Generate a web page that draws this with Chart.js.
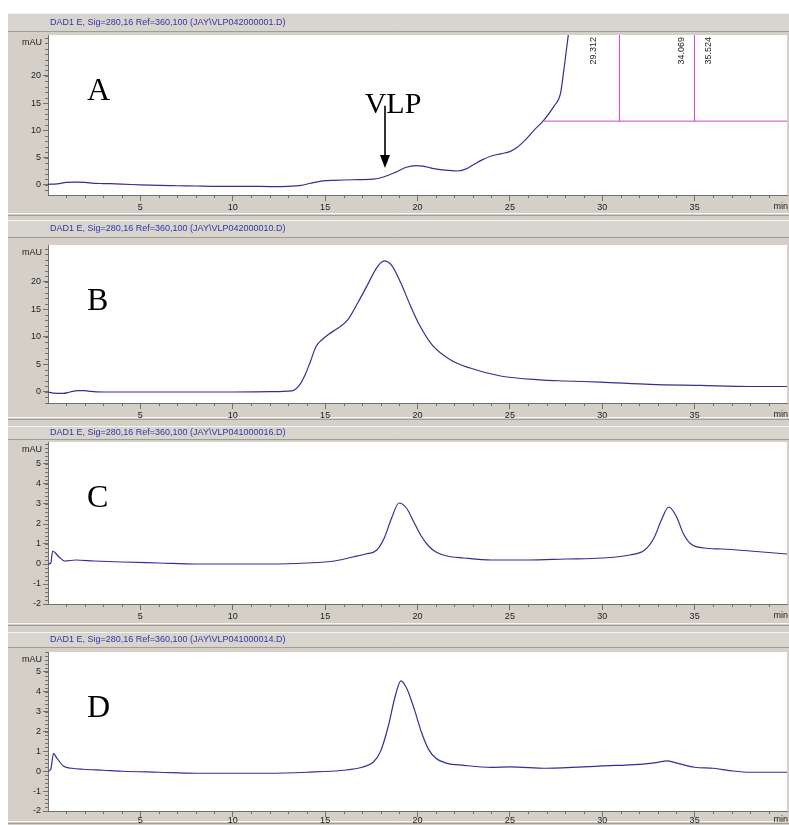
<!DOCTYPE html>
<html>
<head>
<meta charset="utf-8">
<script src="https://cdn.jsdelivr.net/npm/chart.js@4"></script>
<style>
  body { margin: 0; background: #fff; }
  #wrap { position: relative; width: 789px; height: 825px; overflow: hidden; }
  #wrap canvas { position: absolute; left: 0; }
</style>
</head>
<body>
<div id="wrap">
  <canvas id="chartA" width="789" height="204" style="top:13px"></canvas>
  <canvas id="chartB" width="789" height="204" style="top:217px"></canvas>
  <canvas id="chartC" width="789" height="206" style="top:421px"></canvas>
  <canvas id="chartD" width="789" height="198" style="top:627px"></canvas>
</div>
<script>
// tick labels
const xTicks = [5, 10, 15, 20, 25, 30, 35];
const yTicksAB = [0, 5, 10, 15, 20];
const yTicksCD = [-2, -1, 0, 1, 2, 3, 4, 5];

// A: VLP042000001
const timeA = [0, 0.5, 1.0, 1.5, 2.0, 2.5, 3.0, 4.0, 5.0, 6.0, 7.0, 8.0, 9.0, 10, 11, 12, 13, 13.7, 14.2, 14.9,
  15.5, 16.5, 17.6, 18.2, 18.8, 19.4, 19.9, 20.3, 20.8, 21.5, 22.1, 22.6, 23.0, 23.5, 24.0, 24.5, 25.0, 25.4,
  25.85, 26.3, 26.84, 27.38, 27.74, 27.9, 28.05, 28.2, 28.35];
const absA = [0.1, 0.2, 0.45, 0.5, 0.45, 0.3, 0.25, 0.15, 0.0, -0.1, -0.15, -0.2, -0.25, -0.25, -0.25, -0.3, -0.25, -0.1, 0.3, 0.75,
  0.85, 0.95, 1.05, 1.5, 2.3, 3.25, 3.55, 3.45, 3.05, 2.7, 2.55, 2.9, 3.65, 4.6, 5.3, 5.7, 6.1, 6.9,
  8.3, 10.0, 11.9, 14.4, 16.8, 20.5, 24.5, 28.5, 32];
// integration marks in A
const peakTimes = [29.312, 34.069, 35.524];
const peakLabels = ['29.312', '34.069', '35.524'];
const peakEdges = [30.93, 34.99];
const baseStart = 26.84, baseEnd = 40, baseLevel = 11.7;
// VLP arrow in A (min, mAU)
const vlpTime = 18.24, vlpFrom = 13.4, vlpTo = 3.1;

// B: VLP042000010
const timeB = [0, 0.3, 0.8, 1.2, 1.6, 2.0, 2.3, 3, 5, 8, 10, 12, 13.2, 13.6, 13.9, 14.2, 14.5, 14.8, 15.2, 15.6,
  16.2, 16.8, 17.3, 17.8, 18.2, 18.6, 19.1, 19.6, 20.1, 20.8, 21.8, 22.8, 24.5, 26.6, 28, 29.9, 32.6, 35.3, 38, 40];
const absB = [0, -0.2, -0.25, 0, 0.25, 0.25, 0.1, 0, 0, 0, 0, 0.05, 0.2, 1.2, 3.0, 5.5, 8.2, 9.4, 10.5, 11.4,
  13, 16.4, 19.5, 22.6, 23.8, 23.0, 19.8, 15.8, 12.2, 8.5, 5.8, 4.4, 2.9, 2.2, 2.0, 1.8, 1.4, 1.2, 1.0, 1.0];

// C: VLP041000016
const timeC = [0, 0.15, 0.25, 0.4, 0.6, 0.9, 1.5, 2.5, 4, 6, 8, 10, 12, 14, 15.5, 16.5, 17.2, 17.8, 18.2, 18.6,
  19.0, 19.4, 19.8, 20.2, 20.6, 21, 21.6, 22.5, 24, 26, 28, 30, 31.5, 32.3, 32.8, 33.2, 33.6, 34.0, 34.4, 34.8,
  35.5, 36.5, 38, 40];
const absC = [0, 0.05, 0.65, 0.55, 0.35, 0.15, 0.2, 0.15, 0.1, 0.05, 0.0, 0.0, 0.0, 0.05, 0.15, 0.35, 0.5, 0.7, 1.3, 2.3,
  3.05, 2.8, 2.1, 1.4, 0.9, 0.6, 0.4, 0.3, 0.2, 0.2, 0.25, 0.3, 0.45, 0.7, 1.3, 2.2, 2.85, 2.4, 1.5, 1.0,
  0.8, 0.75, 0.65, 0.5];

// D: VLP041000014
const timeD = [0, 0.15, 0.3, 0.45, 0.85, 1.3, 1.9, 3, 4, 6, 8, 10, 12, 14, 16, 17, 17.6, 18.0, 18.4, 18.8,
  19.1, 19.4, 19.8, 20.2, 20.6, 21, 21.6, 22.5, 24, 25, 27, 30, 32, 33, 33.5, 34, 35, 36, 37, 38, 40];
const absD = [0, 0.1, 0.9, 0.7, 0.25, 0.15, 0.1, 0.05, 0, -0.05, -0.1, -0.1, -0.1, -0.05, 0.05, 0.2, 0.45, 1.0, 2.2, 3.8,
  4.55, 4.2, 3.2, 2.0, 1.1, 0.65, 0.4, 0.3, 0.2, 0.22, 0.15, 0.27, 0.35, 0.45, 0.52, 0.42, 0.2, 0.15, 0.02, -0.05, -0.05];

const FONT = "'Liberation Sans', Arial, sans-serif";
const SERIF = '"Liberation Serif", "Times New Roman", serif';
const GRAY = '#d4d0c8';
const TRACE = '#30309a';
const MAGENTA = '#cc44cc';

const pts = (t, v) => t.map((x, i) => ({ x, y: v[i] }));

const frame = {
  id: 'frame',
  beforeDraw(chart, args, o) {
    const { ctx, chartArea: a, width, height } = chart;
    ctx.save();
    ctx.fillStyle = GRAY;
    ctx.fillRect(8, 0, width - 8, height);
    // header strip
    ctx.fillStyle = '#d8d5ce';
    ctx.fillRect(8, o.bandTop, width - 8, o.bandBottom - o.bandTop);
    ctx.strokeStyle = '#f6f5f2';
    ctx.beginPath(); ctx.moveTo(8, o.bandTop + 0.5); ctx.lineTo(width, o.bandTop + 0.5); ctx.stroke();
    ctx.strokeStyle = '#a09d96';
    ctx.beginPath(); ctx.moveTo(8, o.bandBottom - 0.5); ctx.lineTo(width, o.bandBottom - 0.5); ctx.stroke();
    // separator under x labels
    ctx.strokeStyle = '#f6f5f2';
    ctx.beginPath(); ctx.moveTo(8, height - 3.5); ctx.lineTo(width, height - 3.5); ctx.stroke();
    ctx.strokeStyle = '#a09d96';
    ctx.beginPath(); ctx.moveTo(8, height - 1.5); ctx.lineTo(width, height - 1.5); ctx.stroke();
    ctx.fillStyle = '#fff';
    ctx.fillRect(a.left, a.top, a.right - a.left, a.bottom - a.top);
    ctx.restore();
  },
  afterDraw(chart, args, o) {
    const { ctx, chartArea: a, width } = chart;
    const xs = chart.scales.x, ys = chart.scales.y;
    ctx.save();
    // header text
    ctx.font = '9px ' + FONT;
    ctx.fillStyle = '#3434a8';
    ctx.textBaseline = 'middle';
    ctx.textAlign = 'left';
    ctx.fillText(o.header, 50, (o.bandTop + o.bandBottom) / 2);
    // minor ticks
    ctx.strokeStyle = '#707070';
    ctx.lineWidth = 1;
    ctx.beginPath();
    for (let m = 1; m < 40; m++) {
      if (m % 5 === 0) continue;
      const px = Math.round(xs.getPixelForValue(m)) + 0.5;
      ctx.moveTo(px, a.bottom); ctx.lineTo(px, a.bottom + 3);
    }
    for (let k = Math.ceil(ys.min / o.minorY); k * o.minorY <= ys.max; k++) {
      const py = Math.round(ys.getPixelForValue(k * o.minorY)) + 0.5;
      ctx.moveTo(a.left - 3, py); ctx.lineTo(a.left, py);
    }
    ctx.stroke();
    // axis captions
    ctx.fillStyle = '#222';
    ctx.font = '9px ' + FONT;
    ctx.textAlign = 'right';
    ctx.fillText('mAU', a.left - 6, a.top + 8);
    ctx.textBaseline = 'top';
    ctx.fillText('min', width - 1, a.bottom + 7 + o.tickPad);
    // panel letter
    ctx.font = '32px ' + SERIF;
    ctx.fillStyle = '#000';
    ctx.textAlign = 'left';
    ctx.textBaseline = 'alphabetic';
    ctx.fillText(o.letter, a.left + 39, a.top + 65);
    if (o.marks) {
      // retention time labels
      ctx.font = '9px ' + FONT;
      ctx.fillStyle = '#222';
      peakTimes.forEach((t, i) => {
        ctx.save();
        ctx.translate(xs.getPixelForValue(t) + 4, a.top + 2);
        ctx.rotate(-Math.PI / 2);
        ctx.textAlign = 'right';
        ctx.textBaseline = 'middle';
        ctx.fillText(peakLabels[i], 0, 0);
        ctx.restore();
      });
      // VLP arrow
      const ax = xs.getPixelForValue(vlpTime);
      const y0 = ys.getPixelForValue(vlpFrom), y1 = ys.getPixelForValue(vlpTo);
      ctx.strokeStyle = '#000';
      ctx.lineWidth = 1.6;
      ctx.beginPath(); ctx.moveTo(ax, y0 - 6); ctx.lineTo(ax, y1 - 8); ctx.stroke();
      ctx.fillStyle = '#000';
      ctx.beginPath(); ctx.moveTo(ax - 5, y1 - 13); ctx.lineTo(ax + 5, y1 - 13); ctx.lineTo(ax, y1); ctx.closePath(); ctx.fill();
      ctx.font = '30px ' + SERIF;
      ctx.textAlign = 'center';
      ctx.fillText('VLP', ax + 8, y0 + 1);
    }
    ctx.restore();
  }
};

function makePanel(id, cfg) {
  const datasets = [{
    data: pts(cfg.time, cfg.abs),
    borderColor: TRACE,
    borderWidth: 1.2,
    pointRadius: 0,
    cubicInterpolationMode: 'monotone'
  }];
  if (cfg.marks) {
    const line = d => ({ data: d, borderColor: MAGENTA, borderWidth: 1, pointRadius: 0 });
    datasets.push(line([{ x: baseStart, y: baseLevel }, { x: baseEnd, y: baseLevel }]));
    peakEdges.forEach(t => datasets.push(line([{ x: t, y: baseLevel }, { x: t, y: cfg.yMax + 5 }])));
  }
  new Chart(document.getElementById(id), {
    type: 'line',
    data: { datasets },
    plugins: [frame],
    options: {
      responsive: false,
      animation: false,
      layout: { padding: { top: cfg.plotTop, right: 2, left: 0, bottom: 0 } },
      plugins: {
        legend: { display: false },
        tooltip: { enabled: false },
        frame: cfg
      },
      scales: {
        x: {
          type: 'linear',
          min: 0, max: 40,
          afterFit: s => { s.height = cfg.axisH; },
          afterBuildTicks: s => { s.ticks = xTicks.map(v => ({ value: v })); },
          grid: { drawOnChartArea: false, tickLength: 6, color: '#707070' },
          border: { color: '#707070' },
          ticks: { font: { family: FONT, size: 9 }, color: '#222', padding: 1 + cfg.tickPad, maxRotation: 0 }
        },
        y: {
          min: cfg.yMin, max: cfg.yMax,
          afterFit: s => { s.width = 48; },
          afterBuildTicks: s => { s.ticks = cfg.yTicks.map(v => ({ value: v })); },
          grid: { drawOnChartArea: false, tickLength: 5, color: '#707070' },
          border: { color: '#707070' },
          ticks: { font: { family: FONT, size: 9 }, color: '#222', padding: 2 }
        }
      }
    }
  });
}

makePanel('chartA', { header: 'DAD1 E, Sig=280,16 Ref=360,100 (JAY\\VLP042000001.D)', letter: 'A',
  time: timeA, abs: absA, yMin: -1.85, yMax: 27.5, yTicks: yTicksAB, minorY: 1,
  bandTop: 0, bandBottom: 19, plotTop: 22, axisH: 22, tickPad: 0, marks: true });
makePanel('chartB', { header: 'DAD1 E, Sig=280,16 Ref=360,100 (JAY\\VLP042000010.D)', letter: 'B',
  time: timeB, abs: absB, yMin: -2.0, yMax: 26.7, yTicks: yTicksAB, minorY: 1,
  bandTop: 3, bandBottom: 21, plotTop: 28, axisH: 18, tickPad: 0 });
makePanel('chartC', { header: 'DAD1 E, Sig=280,16 Ref=360,100 (JAY\\VLP041000016.D)', letter: 'C',
  time: timeC, abs: absC, yMin: -2, yMax: 6.1, yTicks: yTicksCD, minorY: 0.2,
  bandTop: 5, bandBottom: 19, plotTop: 21, axisH: 23, tickPad: 0 });
makePanel('chartD', { header: 'DAD1 E, Sig=280,16 Ref=360,100 (JAY\\VLP041000014.D)', letter: 'D',
  time: timeD, abs: absD, yMin: -2, yMax: 6, yTicks: yTicksCD, minorY: 0.2,
  bandTop: 5, bandBottom: 21, plotTop: 25, axisH: 14, tickPad: -3 });
</script>
</body>
</html>
